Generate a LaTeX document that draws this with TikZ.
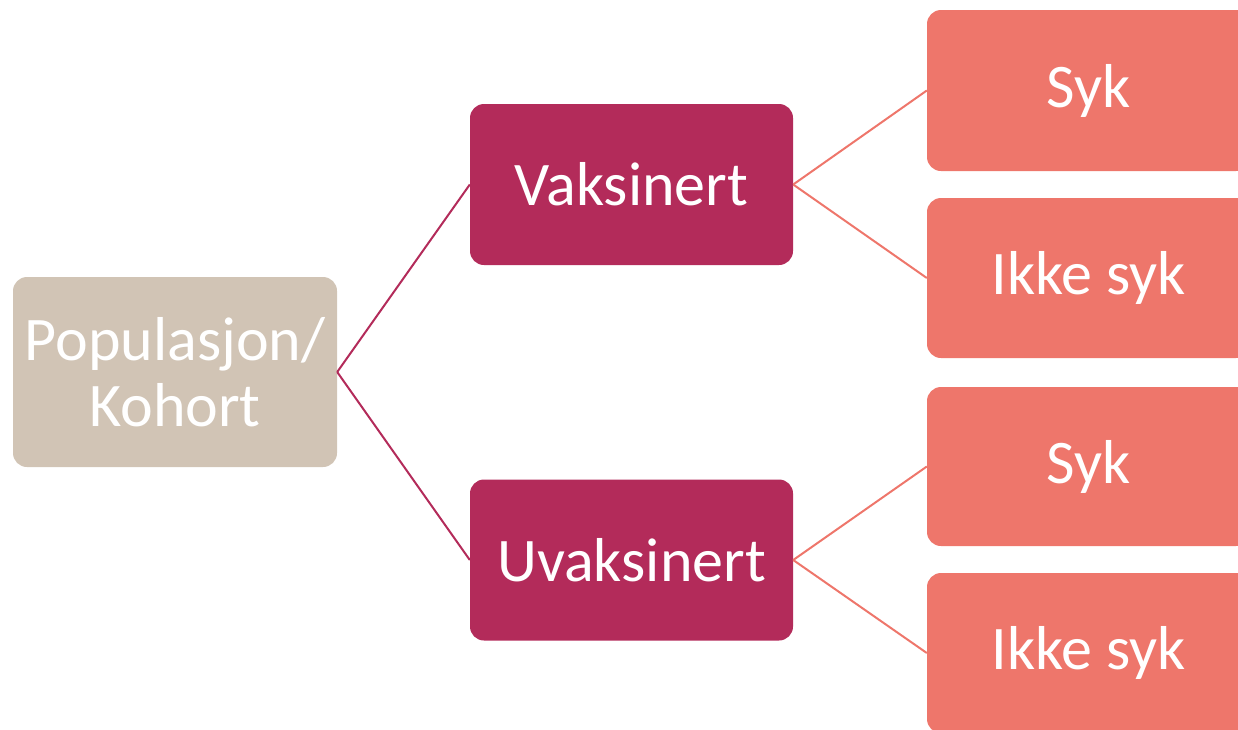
\documentclass[tikz,border=0pt]{standalone}
\usepackage{fontspec}
\setmainfont{Carlito}
\definecolor{popfill}{HTML}{D1C4B5}
\definecolor{crimson}{HTML}{B32B5A}
\definecolor{salmon}{HTML}{EE766B}
\begin{document}
\begin{tikzpicture}[x=1pt,y=-1pt,
  box/.style={rectangle, rounded corners=14pt, inner sep=0pt, minimum width=323pt, minimum height=160pt, text=white, font=\fontsize{62}{66}\selectfont, align=center},
  popbox/.style={box, fill=popfill, minimum width=324pt, minimum height=190pt},
  midbox/.style={box, fill=crimson, minimum height=161pt},
  endbox/.style={box, fill=salmon},
  link1/.style={draw=crimson, line width=2pt},
  link2/.style={draw=salmon, line width=2pt}]
\useasboundingbox (0,0) rectangle (1238,729);
\clip (0,0) rectangle (1238,729);
\node[popbox] (pop) at (175,372) {Populasjon/\\Kohort};
\node[midbox] (vak) at (631.5,184.5) {Vaksinert};
\node[midbox] (uvak) at (631.5,560) {Uvaksinert};
\node[endbox, minimum height=161pt] (syk1) at (1088.5,90.5) {Syk};
\node[endbox] (ikke1) at (1088.5,278) {Ikke syk};
\node[endbox, minimum height=159pt] (syk2) at (1088.5,466.5) {Syk};
\node[endbox] (ikke2) at (1088.5,653) {Ikke syk};
\draw[link1] (pop.east) -- (vak.west);
\draw[link1] (pop.east) -- (uvak.west);
\draw[link2] (vak.east) -- (syk1.west);
\draw[link2] (vak.east) -- (ikke1.west);
\draw[link2] (uvak.east) -- (syk2.west);
\draw[link2] (uvak.east) -- (ikke2.west);
\end{tikzpicture}
\end{document}
